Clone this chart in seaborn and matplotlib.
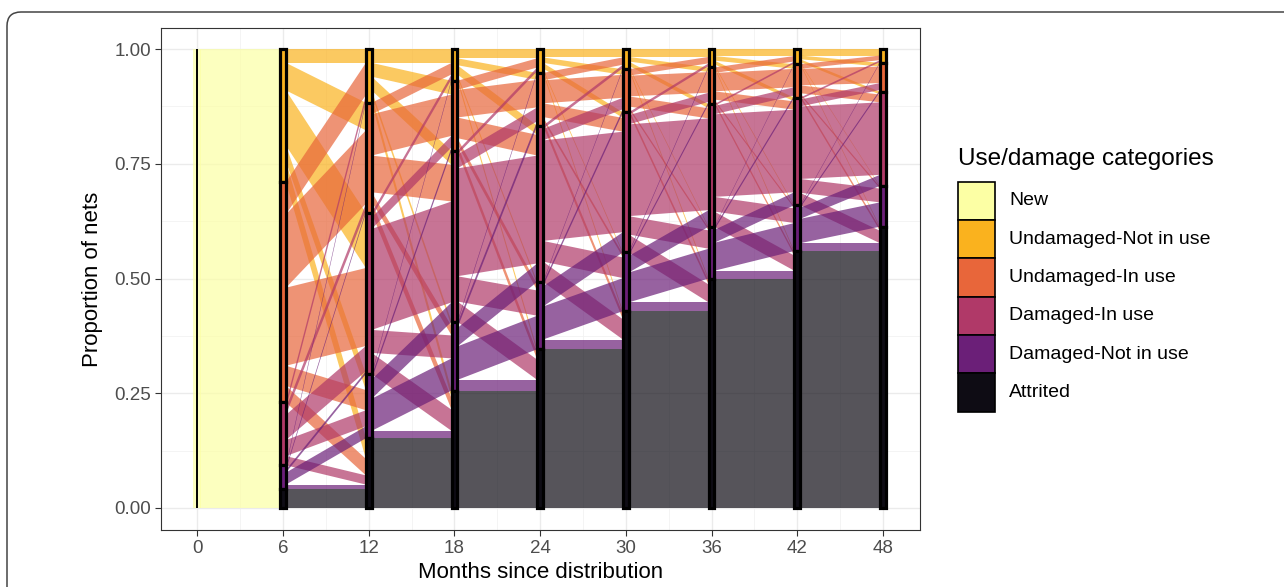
import matplotlib
matplotlib.use("Agg")
import numpy as np
import pandas as pd
import matplotlib.pyplot as plt
import seaborn as sns
from matplotlib.patches import Rectangle, Polygon, FancyBboxPatch
from matplotlib.transforms import IdentityTransform
from matplotlib.ticker import FixedLocator

# ---------------- data ----------------
categories = ["New", "Undamaged-Not in use", "Undamaged-In use",
              "Damaged-In use", "Damaged-Not in use", "Attrited"]
cat_colors = ["#FCFFA4", "#FAB21E", "#E8663A", "#B03968", "#6B1F78", "#0E0C14"]
months = [0, 6, 12, 18, 24, 30, 36, 42, 48]
y_ticks = [0.0, 0.25, 0.50, 0.75, 1.00]
y_tick_labels = ["0.00", "0.25", "0.50", "0.75", "1.00"]

# proportion of nets moving from "New" (month 0) to each state at month 6
new_to_m6 = [0.29, 0.48, 0.137, 0.052, 0.041]
# transitions between states: rows = from, cols = to
# order: Undamaged-Not in use, Undamaged-In use, Damaged-In use, Damaged-Not in use, Attrited
m6_to_m12 = [[0.030, 0.060, 0.120, 0.035, 0.045],
             [0.070, 0.160, 0.170, 0.044, 0.036],
             [0.012, 0.015, 0.055, 0.035, 0.020],
             [0.005, 0.005, 0.006, 0.026, 0.010],
             [0.000, 0.000, 0.000, 0.000, 0.041]]
m12_to_m18 = [[0.030, 0.030, 0.030, 0.010, 0.017],
              [0.025, 0.090, 0.080, 0.020, 0.025],
              [0.010, 0.025, 0.220, 0.050, 0.046],
              [0.004, 0.008, 0.042, 0.070, 0.016],
              [0.000, 0.000, 0.000, 0.000, 0.152]]
m18_to_m24 = [[0.020, 0.015, 0.020, 0.006, 0.008],
              [0.020, 0.060, 0.045, 0.013, 0.015],
              [0.008, 0.030, 0.235, 0.055, 0.044],
              [0.004, 0.010, 0.040, 0.073, 0.023],
              [0.000, 0.000, 0.000, 0.000, 0.256]]
m24_to_m30 = [[0.018, 0.012, 0.012, 0.004, 0.006],
              [0.016, 0.050, 0.030, 0.007, 0.012],
              [0.007, 0.025, 0.219, 0.045, 0.044],
              [0.003, 0.007, 0.044, 0.072, 0.021],
              [0.000, 0.000, 0.000, 0.000, 0.346]]
m30_to_m36 = [[0.017, 0.010, 0.009, 0.003, 0.005],
              [0.014, 0.045, 0.022, 0.005, 0.008],
              [0.006, 0.020, 0.200, 0.040, 0.039],
              [0.003, 0.005, 0.036, 0.065, 0.019],
              [0.000, 0.000, 0.000, 0.000, 0.429]]
m36_to_m42 = [[0.015, 0.010, 0.008, 0.003, 0.004],
              [0.012, 0.040, 0.018, 0.004, 0.006],
              [0.004, 0.018, 0.180, 0.032, 0.033],
              [0.002, 0.005, 0.028, 0.061, 0.017],
              [0.000, 0.000, 0.000, 0.000, 0.500]]
m42_to_m48 = [[0.014, 0.008, 0.006, 0.002, 0.003],
              [0.010, 0.036, 0.017, 0.004, 0.006],
              [0.004, 0.015, 0.158, 0.030, 0.027],
              [0.002, 0.004, 0.024, 0.053, 0.017],
              [0.000, 0.000, 0.000, 0.000, 0.560]]

transitions = [[new_to_m6], m6_to_m12, m12_to_m18, m18_to_m24,
               m24_to_m30, m30_to_m36, m36_to_m42, m42_to_m48]

# ---------------- style ----------------
sns.set_theme(style="white")
plt.rcParams["font.family"] = ["Liberation Sans", "DejaVu Sans"]
palette = sns.color_palette(cat_colors)

W, H = 1284, 587
fig = plt.figure(figsize=(W / 100, H / 100), dpi=100)
ax = fig.add_axes([161 / W, 1 - 530 / H, (920 - 161) / W, (530 - 28) / H])

stratum_w = 0.4
flow_alpha = 0.7

# long table of flows
rows = []
for k, mat in enumerate(transitions):
    mat = np.array(mat, dtype=float)
    src_ids = [0] if k == 0 else list(range(1, 6))
    dst_ids = list(range(1, 6))
    for a, si in enumerate(src_ids):
        for b, di in enumerate(dst_ids):
            rows.append(dict(k=k, x0=months[k], x1=months[k + 1],
                             src=si, dst=di, a=a, b=b, value=mat[a, b]))
flows = pd.DataFrame(rows)

strata = []  # (x, cat, bottom, top)
for k, mat in enumerate(transitions):
    mat = np.array(mat, dtype=float)
    out_sizes = mat.sum(axis=1)
    in_sizes = mat.sum(axis=0)
    out_top = 1 - np.concatenate([[0], np.cumsum(out_sizes)[:-1]])
    in_top = 1 - np.concatenate([[0], np.cumsum(in_sizes)[:-1]])
    xl = months[k] + stratum_w / 2
    xr = months[k + 1] - stratum_w / 2
    # left lodes ordered by destination, right lodes ordered by source
    left = {}
    for a in range(mat.shape[0]):
        y = out_top[a]
        for b in range(mat.shape[1]):
            left[(a, b)] = (y, y - mat[a, b])
            y -= mat[a, b]
    right = {}
    for b in range(mat.shape[1]):
        y = in_top[b]
        for a in range(mat.shape[0]):
            right[(a, b)] = (y, y - mat[a, b])
            y -= mat[a, b]
    sub = flows[flows.k == k]
    for _, r in sub.iterrows():
        if r.value <= 0:
            continue
        lt, lb = left[(r.a, r.b)]
        rt, rb = right[(r.a, r.b)]
        poly = Polygon([(xl, lt), (xr, rt), (xr, rb), (xl, lb)], closed=True,
                       facecolor=palette[int(r.src)], alpha=flow_alpha,
                       edgecolor="none", zorder=2)
        ax.add_patch(poly)
    # strata at the right axis
    for b in range(mat.shape[1]):
        if in_sizes[b] > 0:
            strata.append((months[k + 1], b + 1, in_top[b] - in_sizes[b], in_top[b]))

# month-0 stratum (New)
ax.add_patch(Rectangle((-0.28, 0), 0.56, 1.0, facecolor=palette[0],
                       alpha=flow_alpha, edgecolor="none", zorder=2))
ax.plot([0, 0], [0, 1], color="black", lw=1.4, zorder=3, solid_capstyle="butt")

for x, c, bot, top in strata:
    ax.add_patch(Rectangle((x - stratum_w / 2, bot), stratum_w, top - bot,
                           facecolor=palette[c], edgecolor="black", lw=2.3, zorder=3))

# ---------------- axes ----------------
ax.set_xlim(-2.55, 50.6)
ax.set_ylim(-0.048, 1.046)
ax.xaxis.set_major_locator(FixedLocator(months))
ax.xaxis.set_minor_locator(FixedLocator([m + 3 for m in months[:-1]]))
ax.yaxis.set_major_locator(FixedLocator(y_ticks))
ax.yaxis.set_minor_locator(FixedLocator([0.125, 0.375, 0.625, 0.875]))
ax.set_xticklabels([str(m) for m in months])
ax.set_yticklabels(y_tick_labels)
ax.set_axisbelow(True)
ax.grid(which="major", color="#EBEBEB", lw=1.0, zorder=0)
ax.grid(which="minor", color="#F2F2F2", lw=0.6, zorder=0)
for s in ax.spines.values():
    s.set_color("#333333")
    s.set_linewidth(0.8)
ax.tick_params(axis="both", which="major", direction="out", length=4, width=0.8,
               color="#333333", labelcolor="#4D4D4D", labelsize=13.5, pad=3)
ax.tick_params(axis="both", which="minor", length=0)
ax.tick_params(axis="x", bottom=True)
ax.tick_params(axis="y", left=True)
ax.set_xlabel("Months since distribution", fontsize=16, color="black", labelpad=4)
ax.set_ylabel("Proportion of nets", fontsize=16, color="black", labelpad=8)

# ---------------- legend ----------------
def fx(px):
    return px / W


def fy(py):
    return 1 - py / H


fig.text(fx(958), fy(159), "Use/damage categories", fontsize=17.5,
         ha="left", va="center", color="black")
key_h, key_w, key_top = 38.3, 37, 181.7
for i, (cat, col) in enumerate(zip(categories, palette)):
    top = key_top + i * key_h
    fig.add_artist(Rectangle((fx(958), fy(top + key_h)), key_w / W, key_h / H,
                             transform=fig.transFigure, facecolor=col,
                             edgecolor="black", lw=1.2))
    fig.text(fx(1009), fy(top + key_h / 2), cat, fontsize=14,
             ha="left", va="center", color="black")

# outer rounded frame
fig.add_artist(FancyBboxPatch((7, -30), 1320, H - 12 + 30,
                              boxstyle="round,pad=0,rounding_size=14",
                              transform=IdentityTransform(), facecolor="none",
                              edgecolor="#444444", lw=1.1))

fig.savefig("out.png", dpi=100)
